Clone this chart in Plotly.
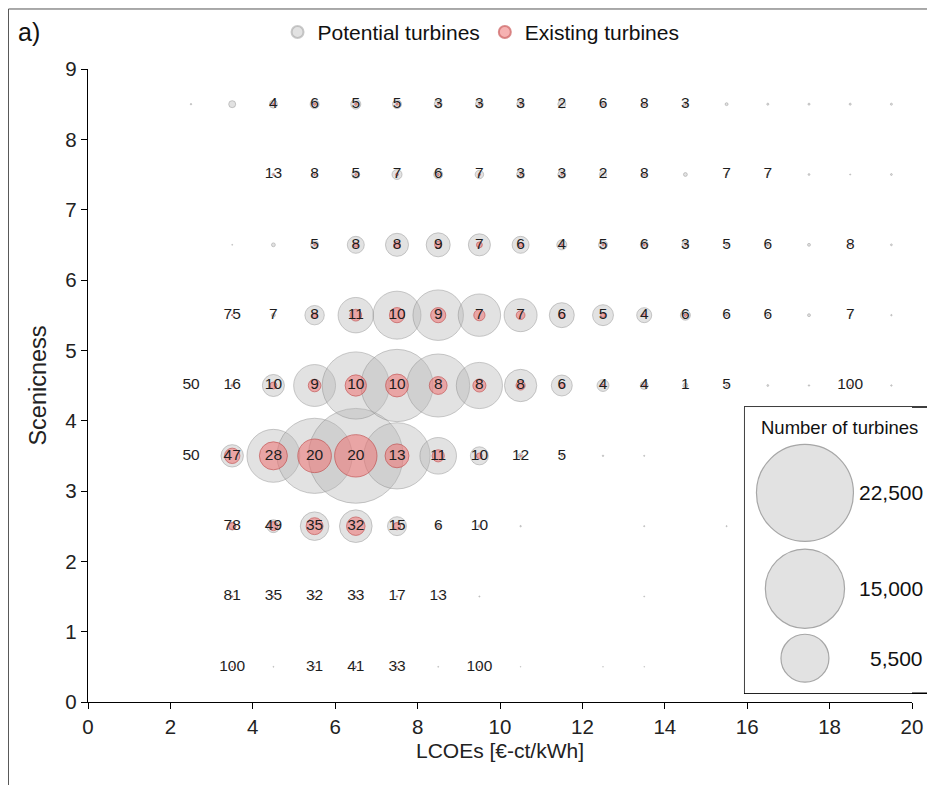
import plotly.graph_objects as go

# LCOE bin centres (x) and scenicness bin centres (y)
lcoe_bins = [2.5, 3.5, 4.5, 5.5, 6.5, 7.5, 8.5, 9.5, 10.5, 11.5, 12.5, 13.5, 14.5, 15.5, 16.5, 17.5, 18.5, 19.5]
scenic_bins = [0.5, 1.5, 2.5, 3.5, 4.5, 5.5, 6.5, 7.5, 8.5]

# Number of potential turbines per cell (rows = scenicness bins, bottom to top)
potential_y05 = [0, 3, 2, 6, 6, 6, 2, 3, 1, 0, 1, 1, 0, 0, 0, 0, 0, 0]
potential_y15 = [0, 6, 6, 6, 10, 8, 6, 3, 0, 0, 0, 2, 0, 0, 0, 0, 0, 0]
potential_y25 = [0, 150, 400, 1950, 2550, 860, 40, 20, 5, 0, 0, 3, 0, 3, 0, 0, 0, 0]
potential_y35 = [2, 1200, 6700, 13500, 21500, 10500, 3200, 780, 60, 8, 5, 3, 0, 0, 0, 0, 0, 0]
potential_y45 = [2, 20, 1160, 4200, 10800, 12500, 9500, 5100, 2500, 1050, 340, 150, 60, 10, 8, 5, 3, 5]
potential_y55 = [0, 5, 35, 900, 3000, 5500, 6100, 4300, 2600, 1490, 1050, 540, 240, 15, 10, 20, 10, 5]
potential_y65 = [0, 2, 35, 150, 690, 1270, 1380, 1160, 690, 240, 190, 150, 115, 15, 15, 20, 10, 8]
potential_y75 = [0, 0, 20, 60, 150, 240, 190, 170, 150, 150, 120, 40, 35, 10, 10, 8, 3, 8]
potential_y85 = [5, 117, 153, 194, 240, 194, 153, 150, 140, 150, 40, 40, 50, 20, 10, 10, 10, 10]

# Share of existing turbines in % (labels); None = no label
N = None
share_y05 = [N, 100, N, 31, 41, 33, N, 100, N, N, N, N, N, N, N, N, N, N]
share_y15 = [N, 81, 35, 32, 33, 17, 13, N, N, N, N, N, N, N, N, N, N, N]
share_y25 = [N, 78, 49, 35, 32, 15, 6, 10, N, N, N, N, N, N, N, N, N, N]
share_y35 = [50, 47, 28, 20, 20, 13, 11, 10, 12, 5, N, N, N, N, N, N, N, N]
share_y45 = [50, 16, 10, 9, 10, 10, 8, 8, 8, 6, 4, 4, 1, 5, N, N, 100, N]
share_y55 = [N, 75, 7, 8, 11, 10, 9, 7, 7, 6, 5, 4, 6, 6, 6, N, 7, N]
share_y65 = [N, N, N, 5, 8, 8, 9, 7, 6, 4, 5, 6, 3, 5, 6, N, 8, N]
share_y75 = [N, N, 13, 8, 5, 7, 6, 7, 3, 3, 2, 8, N, 7, 7, N, N, N]
share_y85 = [N, N, 4, 6, 5, 5, 3, 3, 3, 2, 6, 8, 3, N, N, N, N, N]

size_legend_values = [22500, 15000, 5500]
size_legend_labels = ["22,500", "15,000", "5,500"]

x_ticks = [0, 2, 4, 6, 8, 10, 12, 14, 16, 18, 20]
y_ticks = [0, 1, 2, 3, 4, 5, 6, 7, 8, 9]

potential_rows = [potential_y05, potential_y15, potential_y25, potential_y35, potential_y45,
                  potential_y55, potential_y65, potential_y75, potential_y85]
share_rows = [share_y05, share_y15, share_y25, share_y35, share_y45,
              share_y55, share_y65, share_y75, share_y85]

px_, py_, ps_ = [], [], []
ex_, ey_, es_ = [], [], []
tx_, ty_, tt_ = [], [], []
for yv, prow, srow in zip(scenic_bins, potential_rows, share_rows):
    for xv, p, s in zip(lcoe_bins, prow, srow):
        if p > 0:
            px_.append(xv); py_.append(yv); ps_.append(p)
        if s is not None:
            ex_.append(xv); ey_.append(yv); es_.append(p * s / 100.0)
            tx_.append(xv); ty_.append(yv); tt_.append(str(s))

SIZEREF = 22500 / (2 * 48.5 ** 2)
FONT = "Liberation Sans, Arial, sans-serif"

# legend-key vertical positions inside the size-legend box (axis y2 units)
key_y = [0.70, 0.365, 0.122]

fig = go.Figure()
fig.add_trace(go.Scatter(
    x=px_, y=py_, mode="markers", name="Potential turbines",
    marker=dict(size=ps_, sizemode="area", sizeref=SIZEREF, sizemin=0,
                color="rgba(182,182,182,0.56)",
                line=dict(color="rgba(120,120,120,0.55)", width=1)),
    cliponaxis=False, hoverinfo="skip"))
fig.add_trace(go.Scatter(
    x=ex_, y=ey_, mode="markers", name="Existing turbines",
    marker=dict(size=es_, sizemode="area", sizeref=SIZEREF, sizemin=0,
                color="rgba(240,115,115,0.78)",
                line=dict(color="rgba(190,50,50,0.8)", width=1)),
    cliponaxis=False, hoverinfo="skip"))
fig.add_trace(go.Scatter(
    x=tx_, y=ty_, mode="text", text=tt_, showlegend=False,
    textfont=dict(family=FONT, size=15.5, color="#1e1e1e"),
    cliponaxis=False, hoverinfo="skip"))

# bubble size legend (overlay axes)
fig.add_trace(go.Scatter(
    x=[0.36, 0.36, 0.36], y=key_y, mode="markers",
    xaxis="x2", yaxis="y2", showlegend=False, hoverinfo="skip", cliponaxis=False,
    marker=dict(size=size_legend_values, sizemode="area", sizeref=SIZEREF,
                color="rgb(215,215,215)", line=dict(color="rgb(130,130,130)", width=1.2))))

axis_common = dict(showline=True, linecolor="black", linewidth=1.3, ticks="outside",
                   ticklen=6, tickcolor="black", showgrid=False, zeroline=False,
                   automargin=False,
                   tickfont=dict(family=FONT, size=20.5, color="#222"))

annotations = [
    dict(text="a)", xref="paper", yref="paper", x=-0.087, y=1.058, xanchor="left",
         yanchor="middle", showarrow=False, font=dict(family=FONT, size=25, color="#111")),
    dict(text="Number of turbines", xref="paper", yref="paper", x=0.9126, y=0.434,
         xanchor="center", yanchor="middle", showarrow=False,
         font=dict(family=FONT, size=18.5, color="#111")),
]
for lab, ky in zip(size_legend_labels, key_y):
    annotations.append(dict(text=lab, xref="paper", yref="y2 domain", x=1.016, y=ky,
                            xanchor="right", yanchor="middle", showarrow=False,
                            font=dict(family=FONT, size=21, color="#111")))

fig.update_layout(
    width=927, height=777,
    margin=dict(l=80, r=23, t=61, b=83, autoexpand=False),
    paper_bgcolor="white", plot_bgcolor="white",
    font=dict(family=FONT, color="#222"),
    xaxis=dict(range=[0, 20], tickvals=x_ticks, **axis_common,
               title=dict(text="LCOEs [€-ct/kWh]", font=dict(family=FONT, size=21, color="#222"), standoff=6)),
    yaxis=dict(range=[0, 9], tickvals=y_ticks, **axis_common,
               title=dict(text="Scenicness", font=dict(family=FONT, size=23.5, color="#222"), standoff=12)),
    xaxis2=dict(domain=[0.797, 1.0], range=[0, 1], anchor="y2", visible=False, fixedrange=True),
    yaxis2=dict(domain=[0.014, 0.466], range=[0, 1], anchor="x2", visible=False, fixedrange=True),
    legend=dict(orientation="h", x=0.477, xanchor="center", y=1.058, yanchor="middle",
                font=dict(family=FONT, size=21, color="#111"), itemsizing="constant",
                bgcolor="rgba(0,0,0,0)", itemwidth=30),
    showlegend=True,
    shapes=[
        dict(type="rect", xref="paper", yref="paper", x0=0.797, x1=1.03, y0=0.014, y1=0.466,
             line=dict(color="black", width=1.5), fillcolor="rgba(0,0,0,0)", layer="below"),
        dict(type="rect", xref="paper", yref="paper", x0=-0.0965, x1=1.2, y0=-0.3, y1=1.0948,
             line=dict(color="#555", width=1), fillcolor="rgba(0,0,0,0)", layer="below"),
    ],
    annotations=annotations,
)

fig.write_html("out.html")
